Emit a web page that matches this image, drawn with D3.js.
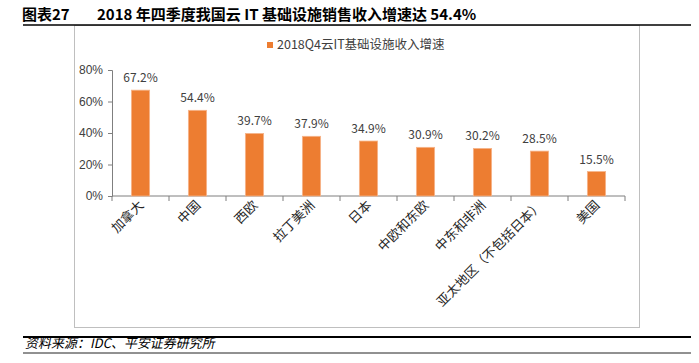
<!DOCTYPE html>
<html>
<head>
<meta charset="utf-8">
<script src="https://cdn.jsdelivr.net/npm/d3@7"></script>
<style>
  body { margin: 0; background: #fff; }
  svg { display: block; font-family: "Noto Sans CJK SC", "Noto Sans", sans-serif; }
</style>
</head>
<body>
<script>
const regions = ['加拿大', '中国', '西欧', '拉丁美洲', '日本', '中欧和东欧', '中东和非洲', '亚太地区（不包括日本）', '美国'];
const growth = [0.672, 0.544, 0.397, 0.379, 0.349, 0.309, 0.302, 0.285, 0.155];
const yTicks = [0, 0.2, 0.4, 0.6, 0.8];
const seriesName = '2018Q4云IT基础设施收入增速';

const W = 699, H = 363;
const svg = d3.select('body').append('svg')
  .attr('width', W)
  .attr('height', H);

// title + frame lines
svg.append('text')
  .attr('x', 22).attr('y', 20)
  .attr('font-size', 15).attr('font-weight', 'bold').attr('fill', '#000')
  .text('图表27');
svg.append('text')
  .attr('x', 97).attr('y', 20)
  .attr('font-size', 15).attr('font-weight', 'bold').attr('fill', '#000')
  .text('2018 年四季度我国云 IT 基础设施销售收入增速达 54.4%');

svg.append('rect')
  .attr('x', 74.5).attr('y', 25.5)
  .attr('width', 565).attr('height', 302)
  .attr('fill', 'none').attr('stroke', '#bfbfbf');

svg.append('line')
  .attr('x1', 23).attr('x2', 691).attr('y1', 25).attr('y2', 25)
  .attr('stroke', '#000').attr('stroke-width', 1.5);

svg.append('line')
  .attr('x1', 23).attr('x2', 691).attr('y1', 337).attr('y2', 337)
  .attr('stroke', '#000').attr('stroke-width', 2);

svg.append('line')
  .attr('x1', 23).attr('x2', 691).attr('y1', 353).attr('y2', 353)
  .attr('stroke', '#222').attr('stroke-width', 1);

svg.append('text')
  .attr('x', 25).attr('y', 348)
  .attr('font-size', 13).attr('fill', '#000')
  .attr('transform', 'skewX(-12) translate(74,0)')
  .text('资料来源：IDC、平安证券研究所');

// scales
const x = d3.scaleBand()
  .domain(regions)
  .range([112, 625]);

const y = d3.scaleLinear()
  .domain([0, 0.8])
  .range([196, 70]);

const barW = x.bandwidth() * 0.32;
const axisColor = '#7f7f7f';

// y axis
const yAxis = svg.append('g')
  .attr('transform', 'translate(112,0)')
  .call(d3.axisLeft(y).tickValues(yTicks).tickFormat(d3.format('.0%')).tickSize(4).tickPadding(5));
yAxis.select('.domain').attr('stroke', axisColor);
yAxis.selectAll('.tick line').attr('stroke', axisColor);
yAxis.selectAll('.tick text')
  .attr('font-size', 12).attr('fill', '#404040')
  .attr('font-family', '"Liberation Sans", Arial, sans-serif');

// x axis
const xg = svg.append('g');
xg.append('line')
  .attr('x1', x.range()[0]).attr('x2', x.range()[1])
  .attr('y1', y(0)).attr('y2', y(0))
  .attr('stroke', axisColor);
xg.selectAll('line.tick')
  .data(d3.range(regions.length + 1))
  .join('line')
  .attr('class', 'tick')
  .attr('x1', i => x.range()[0] + i * x.step())
  .attr('x2', i => x.range()[0] + i * x.step())
  .attr('y1', y(0)).attr('y2', y(0) + 5)
  .attr('stroke', axisColor);

xg.selectAll('text')
  .data(regions)
  .join('text')
  .attr('text-anchor', 'end')
  .attr('font-size', 13)
  .attr('fill', '#262626')
  .attr('transform', d => `translate(${x(d) + x.bandwidth() / 2 + 4},${y(0) + 10}) rotate(-45)`)
  .text(d => d);

// bars
const data = regions.map((r, i) => ({ region: r, value: growth[i] }));

svg.append('g')
  .selectAll('rect')
  .data(data)
  .join('rect')
  .attr('x', d => x(d.region) + (x.bandwidth() - barW) / 2)
  .attr('width', barW)
  .attr('y', d => y(d.value))
  .attr('height', d => y(0) - y(d.value))
  .attr('fill', '#ed7d31')
  .attr('stroke', '#f6b48a')
  .attr('stroke-width', 0.8);

svg.append('g')
  .selectAll('text')
  .data(data)
  .join('text')
  .attr('x', d => x(d.region) + x.bandwidth() / 2)
  .attr('y', d => y(d.value) - 8)
  .attr('text-anchor', 'middle')
  .attr('font-size', 12)
  .attr('fill', '#404040')
  .text(d => d3.format('.1%')(d.value));

// legend
svg.append('rect')
  .attr('x', 267).attr('y', 42)
  .attr('width', 6).attr('height', 6)
  .attr('fill', '#ed7d31');
svg.append('text')
  .attr('x', 277).attr('y', 49)
  .attr('font-size', 12.5)
  .attr('fill', '#404040')
  .text(seriesName);
</script>
</body>
</html>
